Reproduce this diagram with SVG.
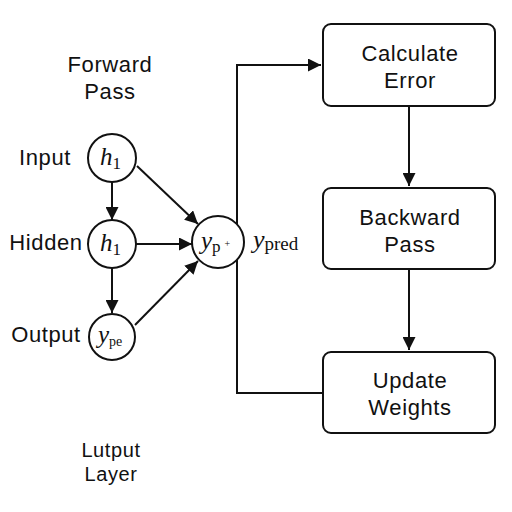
<svg xmlns="http://www.w3.org/2000/svg" width="512" height="512" viewBox="0 0 512 512">
<style>
.lbl{font-family:"Liberation Sans",Arial,sans-serif;font-size:22px;letter-spacing:0.6px;fill:#111;text-anchor:middle}
.m{font-family:"Liberation Serif","Times New Roman",serif;font-size:25px;fill:#111}
.mi{font-style:italic}
.c{fill:#fff;stroke:#111;stroke-width:2}
.b{fill:#fff;stroke:#111;stroke-width:2}
.e{fill:none;stroke:#111;stroke-width:2}
</style>
<defs>
<marker id="ah" viewBox="0 0 10 10" refX="10" refY="5" markerWidth="6.5" markerHeight="6.5" orient="auto" markerUnits="strokeWidth">
<path d="M0,0 L10,5 L0,10 z" fill="#111"/>
</marker>
</defs>
<rect width="512" height="512" fill="#fff"/>
<g id="forward-title"><text class="lbl" x="110" y="72">Forward</text><text class="lbl" x="110" y="99">Pass</text></g>
<g id="lbl-input"><text class="lbl" x="45" y="165">Input</text></g>
<g id="lbl-hidden"><text class="lbl" x="46" y="250">Hidden</text></g>
<g id="lbl-output"><text class="lbl" x="46" y="342">Output</text></g>
<g id="lbl-layer"><text class="lbl" x="111" y="457" style="font-size:20px">Lutput</text><text class="lbl" x="111" y="481" style="font-size:20px">Layer</text></g>
<g id="connectors">
<line class="e" x1="112" y1="182" x2="112" y2="220" marker-end="url(#ah)"/>
<line class="e" x1="112" y1="268" x2="112" y2="313" marker-end="url(#ah)"/>
<line class="e" x1="137" y1="166" x2="198" y2="224" marker-end="url(#ah)"/>
<line class="e" x1="136" y1="244" x2="192" y2="244" marker-end="url(#ah)"/>
<line class="e" x1="135" y1="325" x2="198" y2="261" marker-end="url(#ah)"/>
<polyline class="e" points="237,269 237,65 321,65" marker-end="url(#ah)"/>
<polyline class="e" points="237,269 237,393 323,393"/>
<line class="e" x1="409" y1="106" x2="409" y2="186" marker-end="url(#ah)"/>
<line class="e" x1="409" y1="269" x2="409" y2="350" marker-end="url(#ah)"/>
</g>
<g id="n-input"><circle class="c" cx="112" cy="158" r="24"/><text class="m" x="100" y="165"><tspan class="mi">h</tspan><tspan font-size="17" dy="4">1</tspan></text></g>
<g id="n-hidden"><circle class="c" cx="112" cy="244" r="24"/><text class="m" x="100" y="251"><tspan class="mi">h</tspan><tspan font-size="17" dy="4">1</tspan></text></g>
<g id="n-output"><circle class="c" cx="112" cy="337" r="23"/><text class="m" x="98" y="343"><tspan class="mi">y</tspan><tspan font-size="14" dy="3">pe</tspan></text></g>
<g id="n-ypred"><circle class="c" cx="218" cy="242" r="26"/><text class="m" x="201" y="249"><tspan class="mi">y</tspan><tspan font-size="17" dy="3">p</tspan><tspan font-size="10" dx="4" dy="-5">+</tspan></text></g>
<g id="lbl-ypred"><text class="m" x="253" y="248" style="font-size:26px"><tspan class="mi">y</tspan><tspan font-size="19" dy="2">pred</tspan></text></g>
<g id="n-calc"><rect class="b" x="323" y="24" width="172" height="82" rx="8"/><text class="lbl" x="410" y="61">Calculate</text><text class="lbl" x="410" y="88">Error</text></g>
<g id="n-back"><rect class="b" x="323" y="188" width="172" height="81" rx="8"/><text class="lbl" x="410" y="225">Backward</text><text class="lbl" x="410" y="252">Pass</text></g>
<g id="n-update"><rect class="b" x="323" y="352" width="172" height="81" rx="8"/><text class="lbl" x="410" y="388">Update</text><text class="lbl" x="410" y="415">Weights</text></g>
</svg>
